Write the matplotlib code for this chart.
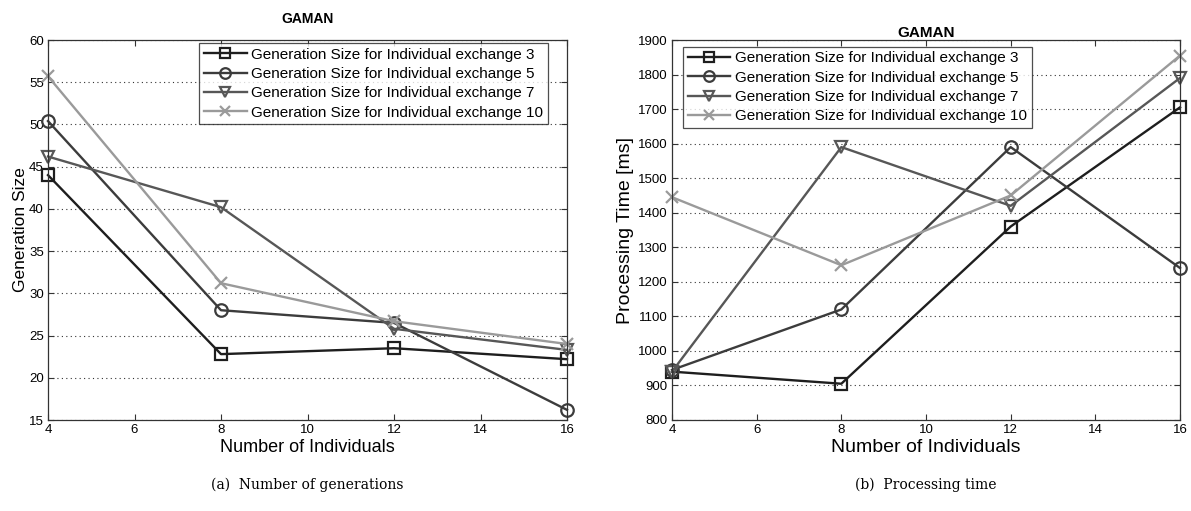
import matplotlib
matplotlib.use("Agg")
import matplotlib.pyplot as plt

individuals = [4, 8, 12, 16]
labels = ["Generation Size for Individual exchange 3",
          "Generation Size for Individual exchange 5",
          "Generation Size for Individual exchange 7",
          "Generation Size for Individual exchange 10"]

gen_ex3 = [44.0, 22.8, 23.5, 22.2]
gen_ex5 = [50.4, 28.0, 26.5, 16.2]
gen_ex7 = [46.2, 40.2, 25.8, 23.3]
gen_ex10 = [55.7, 31.2, 26.7, 24.0]

time_ex3 = [940, 905, 1360, 1705]
time_ex5 = [945, 1120, 1590, 1240]
time_ex7 = [940, 1590, 1420, 1790]
time_ex10 = [1445, 1248, 1450, 1855]

colors = ["#1e1e1e", "#3c3c3c", "#575757", "#9a9a9a"]
markers = ["s", "o", "v", "x"]

plt.rcParams['font.family'] = ['Liberation Sans', 'DejaVu Sans']

fig = plt.figure(figsize=(11.91, 5.11), dpi=100)
ax1 = fig.add_axes([48/1191, 1-420/511, (567-48)/1191, (420-40)/511])
ax2 = fig.add_axes([672/1191, 1-420/511, (1180-672)/1191, (420-40)/511])

def style(ax, xlabel_size):
    ax.grid(axis='y', linestyle=(0, (1, 3)), color='#333333', linewidth=0.8)
    ax.tick_params(direction='in', top=True, right=True, labelsize=9.5, length=4,
                   color='#333333', pad=3)
    for s in ax.spines.values():
        s.set_color('#333333')
        s.set_linewidth(0.9)
    ax.set_xlim(4, 16)
    ax.set_xticks([4, 6, 8, 10, 12, 14, 16])
    ax.set_xlabel("Number of Individuals", fontsize=xlabel_size, labelpad=2)

legend_kw = dict(fontsize=11, handlelength=2.8, handletextpad=0.3, borderpad=0.3,
                 borderaxespad=0.0, labelspacing=0.35, markerscale=0.85,
                 fancybox=False, edgecolor='#222222')

for ys, c, m, l in zip([gen_ex3, gen_ex5, gen_ex7, gen_ex10], colors, markers, labels):
    ax1.plot(individuals, ys, color=c, marker=m, markersize=9, markerfacecolor='none',
             markeredgewidth=1.6, linewidth=1.7, label=l, clip_on=False)
style(ax1, 13)
ax1.set_ylim(15, 60)
ax1.set_yticks(range(15, 61, 5))
ax1.set_ylabel("Generation Size", fontsize=12.5, labelpad=1)
ax1.set_title("GAMAN", fontsize=10, fontweight='bold', pad=12)
leg1 = ax1.legend(loc='upper right', bbox_to_anchor=(0.963, 0.992), **legend_kw)
leg1.get_frame().set_linewidth(0.9)

for ys, c, m, l in zip([time_ex3, time_ex5, time_ex7, time_ex10], colors, markers, labels):
    ax2.plot(individuals, ys, color=c, marker=m, markersize=9, markerfacecolor='none',
             markeredgewidth=1.6, linewidth=1.7, label=l, clip_on=False)
style(ax2, 14)
ax2.set_ylim(800, 1900)
ax2.set_yticks(range(800, 1901, 100))
ax2.set_ylabel("Processing Time [ms]", fontsize=14, labelpad=3)
ax2.set_title("GAMAN", fontsize=11, fontweight='bold', pad=2)
leg2 = ax2.legend(loc='upper left', bbox_to_anchor=(0.0217, 0.982), **legend_kw)
leg2.get_frame().set_linewidth(0.9)

fig.text((48+567)/2/1191, 1-485/511, "(a)  Number of generations", ha='center', va='center',
         fontsize=10, family='DejaVu Serif')
fig.text((672+1180)/2/1191, 1-485/511, "(b)  Processing time", ha='center', va='center',
         fontsize=10, family='DejaVu Serif')

fig.savefig("out.png", dpi=100)
